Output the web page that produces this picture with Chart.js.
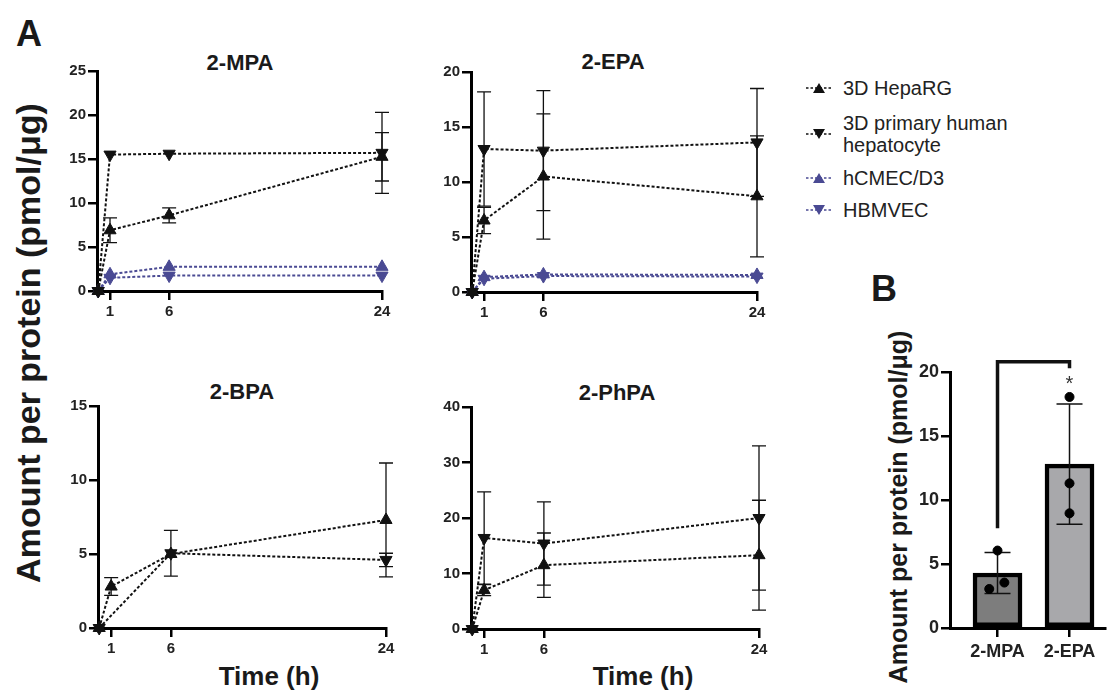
<!DOCTYPE html>
<html>
<head>
<meta charset="utf-8">
<script src="https://cdn.jsdelivr.net/npm/chart.js@4"></script>
<style>
  body { margin: 0; background: #fff; width: 1111px; height: 693px; position: relative; overflow: hidden;
         font-family: "Liberation Sans", Arial, sans-serif; color: #1a1a1a; }
  canvas { position: absolute; }
  .lbl { position: absolute; font-weight: bold; white-space: nowrap; transform: translate(-50%, -50%); }
  .rot { transform: translate(-50%, -50%) rotate(-90deg); }
  .leg { position: absolute; left: 806px; display: flex; align-items: center; font-size: 20px; line-height: 22px; color: #222; }
  .leg svg { margin-right: 11px; flex: none; }
</style>
</head>
<body>

<div class="lbl" style="left:29px;top:34px;font-size:36px">A</div>
<div class="lbl" style="left:884px;top:289px;font-size:36px">B</div>
<div class="lbl rot" style="left:28px;top:343px;font-size:34px">Amount per protein (pmol/μg)</div>
<div class="lbl rot" style="left:898px;top:507px;font-size:25px">Amount per protein (pmol/μg)</div>
<div class="lbl" style="left:240px;top:63px;font-size:22px">2-MPA</div>
<div class="lbl" style="left:613px;top:62px;font-size:22px">2-EPA</div>
<div class="lbl" style="left:242px;top:392px;font-size:22px">2-BPA</div>
<div class="lbl" style="left:617px;top:393px;font-size:22px">2-PhPA</div>
<div class="lbl" style="left:269px;top:676px;font-size:26px">Time (h)</div>
<div class="lbl" style="left:643px;top:676px;font-size:26px">Time (h)</div>
<div id="legend"></div>

<canvas id="mpa"></canvas>
<canvas id="epa"></canvas>
<canvas id="bpa"></canvas>
<canvas id="phpa"></canvas>
<canvas id="bars"></canvas>

<script>
// time points (h) and x tick labels
const times = [0, 1, 6, 24];
const timeTicks = [1, 6, 24];
const seriesNames = ['3D HepaRG', '3D primary human hepatocyte', 'hCMEC/D3', 'HBMVEC'];

// 2-MPA
const mpaHepaRG = [0, 6.9, 8.6, 15.25];
const mpaHepaRGSd = [0, 1.4, 0.85, 2.75];
const mpaHepatocyte = [0, 15.5, 15.6, 15.7];
const mpaHepatocyteSd = [0, 0, 0, 4.6];
const mpaHcmec = [0, 1.9, 2.75, 2.75];
const mpaHbmvec = [0, 1.5, 1.75, 1.75];

// 2-EPA
const epaHepaRG = [0, 6.5, 10.5, 8.7];
const epaHepaRGSd = [0, 1.2, 5.7, 5.5];
const epaHepatocyte = [0, 13.0, 12.85, 13.6];
const epaHepatocyteSd = [0, 5.2, 5.45, 4.9];
const epaHcmec = [0, 1.35, 1.6, 1.55];
const epaHbmvec = [0, 1.2, 1.45, 1.4];

// 2-BPA (no hepatocyte value at 1 h)
const bpaHepaRG = [0, 2.8, 5.0, 7.3];
const bpaHepaRGSd = [0, 0.6, 0, 3.85];
const bpaHepatocyte = [0, null, 5.05, 4.6];
const bpaHepatocyteSd = [0, 0, 1.55, 0.45];

// 2-PhPA
const phpaHepaRG = [0, 7.0, 11.5, 13.3];
const phpaHepaRGSd = [0, 1.0, 5.8, 9.9];
const phpaHepatocyte = [0, 16.4, 15.4, 20.0];
const phpaHepatocyteSd = [0, 8.3, 7.5, 13.0];

// panel B
const barLabels = ['2-MPA', '2-EPA'];
const barMeans = [4.3, 12.8];
const barSd = [1.6, 4.7];
const mpaReplicates = [6.05, 3.55, 3.05];
const epaReplicates = [18.05, 11.3, 8.96];
const mpaJitter = [0, 0.095, -0.115];
const epaJitter = [0, 0, 0];
const bracketLow = 7.8, bracketTop = 20.8, bracketRightEnd = 20.3, starY = 18.6;

const BLACK = '#111';
const PURPLE = '#4a4a93';
const FONT = 'Liberation Sans, Arial, sans-serif';

function place(id, box, yw, xh, pt, pr) {
  const cv = document.getElementById(id);
  const left = Math.round(box.l - yw), top = Math.round(box.t - pt);
  cv.style.left = left + 'px';
  cv.style.top = top + 'px';
  cv.width = Math.round(box.r + pr) - left;
  cv.height = Math.round(box.b + xh) - top;
  return cv;
}

function drawErrors(chart, i, capHalf, lw) {
  const ds = chart.data.datasets[i];
  if (!ds.errors) return;
  const ctx = chart.ctx, ys = chart.scales.y;
  const meta = chart.getDatasetMeta(i);
  ctx.save();
  ctx.strokeStyle = BLACK;
  ctx.lineWidth = lw;
  meta.data.forEach((el, j) => {
    const v = ds.data[j].y, e = ds.errors[j];
    if (v == null || !e) return;
    const x = el.x, y1 = ys.getPixelForValue(v + e), y2 = ys.getPixelForValue(v - e);
    ctx.beginPath();
    ctx.moveTo(x, y1); ctx.lineTo(x, y2);
    ctx.moveTo(x - capHalf, y1); ctx.lineTo(x + capHalf, y1);
    ctx.moveTo(x - capHalf, y2); ctx.lineTo(x + capHalf, y2);
    ctx.stroke();
  });
  ctx.restore();
}

const lineErrors = {
  id: 'lineErrors',
  beforeDatasetsDraw(chart) {
    chart.data.datasets.forEach((ds, i) => drawErrors(chart, i, 7, 1.3));
  }
};

function series(name, vals, sd, color, down) {
  return {
    label: name,
    data: times.map((t, i) => ({ x: t, y: vals[i] })),
    errors: sd,
    borderColor: color,
    backgroundColor: color,
    borderWidth: 2,
    borderDash: [3, 2],
    pointStyle: 'triangle',
    pointRotation: down ? 180 : 0,
    pointRadius: 7,
    pointHoverRadius: 7,
    pointBorderWidth: 1,
    spanGaps: true,
    clip: false
  };
}

function axisStyle() {
  return {
    offset: false,
    grid: { offset: false, drawOnChartArea: false, drawTicks: true, tickLength: 9, color: '#000', lineWidth: 2.5 },
    border: { display: true, color: '#000', width: 3 }
  };
}

function linePanel(id, box, yMax, yStep, datasets) {
  const cv = place(id, box, 45, 32, 14, 20);
  new Chart(cv, {
    type: 'line',
    data: { datasets },
    options: {
      responsive: false,
      animation: false,
      layout: { padding: { top: 14, right: 20, left: 0, bottom: 0 } },
      plugins: { legend: { display: false }, tooltip: { enabled: false } },
      scales: {
        x: {
          type: 'linear', min: -0.1, max: 24,
          ...axisStyle(),
          afterBuildTicks: s => { s.ticks = timeTicks.map(v => ({ value: v })); },
          afterFit: s => { s.height = 32; },
          ticks: { color: '#222', padding: 3, font: { family: FONT, size: 15, weight: 'bold' } }
        },
        y: {
          min: 0, max: yMax,
          ...axisStyle(),
          afterFit: s => { s.width = 45; },
          ticks: { stepSize: yStep, color: '#222', padding: 2, font: { family: FONT, size: 15, weight: 'bold' } }
        }
      }
    },
    plugins: [lineErrors]
  });
}

linePanel('mpa', { l: 97, t: 71, r: 382, b: 291 }, 25, 5, [
  series(seriesNames[0], mpaHepaRG, mpaHepaRGSd, BLACK, false),
  series(seriesNames[1], mpaHepatocyte, mpaHepatocyteSd, BLACK, true),
  series(seriesNames[2], mpaHcmec, null, PURPLE, false),
  series(seriesNames[3], mpaHbmvec, null, PURPLE, true)
]);

linePanel('epa', { l: 471, t: 72, r: 757, b: 292 }, 20, 5, [
  series(seriesNames[0], epaHepaRG, epaHepaRGSd, BLACK, false),
  series(seriesNames[1], epaHepatocyte, epaHepatocyteSd, BLACK, true),
  series(seriesNames[2], epaHcmec, null, PURPLE, false),
  series(seriesNames[3], epaHbmvec, null, PURPLE, true)
]);

linePanel('bpa', { l: 98, t: 406, r: 386, b: 628 }, 15, 5, [
  series(seriesNames[0], bpaHepaRG, bpaHepaRGSd, BLACK, false),
  series(seriesNames[1], bpaHepatocyte, bpaHepatocyteSd, BLACK, true)
]);

linePanel('phpa', { l: 471, t: 407, r: 759, b: 629 }, 40, 10, [
  series(seriesNames[0], phpaHepaRG, phpaHepaRGSd, BLACK, false),
  series(seriesNames[1], phpaHepatocyte, phpaHepatocyteSd, BLACK, true)
]);

// panel B: bars + replicate points + significance bracket
const barErrors = {
  id: 'barErrors',
  afterDatasetDraw(chart, args) {
    if (args.meta.type === 'bar') drawErrors(chart, args.index, 13, 1.5);
  }
};

const bracket = {
  id: 'bracket',
  afterDraw(chart) {
    const ctx = chart.ctx, xs = chart.scales.x, ys = chart.scales.y;
    const x1 = xs.getPixelForValue(1), x2 = xs.getPixelForValue(2);
    const yTop = ys.getPixelForValue(bracketTop);
    ctx.save();
    ctx.strokeStyle = BLACK;
    ctx.lineWidth = 3.5;
    ctx.beginPath();
    ctx.moveTo(x1, ys.getPixelForValue(bracketLow));
    ctx.lineTo(x1, yTop);
    ctx.lineTo(x2, yTop);
    ctx.lineTo(x2, ys.getPixelForValue(bracketRightEnd));
    ctx.stroke();
    ctx.fillStyle = '#333';
    ctx.font = '20px ' + FONT;
    ctx.textAlign = 'center';
    ctx.textBaseline = 'alphabetic';
    ctx.fillText('*', x2, ys.getPixelForValue(starY));
    ctx.restore();
  }
};

const barBox = { l: 950, t: 372, r: 1110, b: 628 };
const barCanvas = place('bars', barBox, 50, 40, 14, 1);
new Chart(barCanvas, {
  type: 'bar',
  data: {
    datasets: [
      {
        type: 'bar',
        data: barMeans.map((v, i) => ({ x: i + 1, y: v })),
        errors: barSd,
        backgroundColor: ['#7d7d7d', '#a8a8ab'],
        borderColor: '#000',
        borderWidth: 4.5,
        borderSkipped: false,
        barThickness: 49,
        order: 1
      },
      {
        type: 'scatter',
        data: mpaReplicates.map((v, k) => ({ x: 1 + mpaJitter[k], y: v }))
          .concat(epaReplicates.map((v, k) => ({ x: 2 + epaJitter[k], y: v }))),
        backgroundColor: '#000',
        borderColor: '#000',
        pointRadius: 4.5,
        pointHoverRadius: 4.5,
        clip: false,
        order: 0
      }
    ]
  },
  options: {
    responsive: false,
    animation: false,
    layout: { padding: { top: 14, right: 1, left: 0, bottom: 0 } },
    plugins: { legend: { display: false }, tooltip: { enabled: false } },
    scales: {
      x: {
        type: 'linear', min: 0.34, max: 2.5,
        ...axisStyle(),
        afterBuildTicks: s => { s.ticks = barLabels.map((_, i) => ({ value: i + 1 })); },
        afterFit: s => { s.height = 40; },
        ticks: { color: '#222', padding: 4, autoSkip: false, maxRotation: 0, font: { family: FONT, size: 18, weight: 'bold' },
                 callback: v => barLabels[v - 1] }
      },
      y: {
        min: 0, max: 20,
        ...axisStyle(),
        afterFit: s => { s.width = 50; },
        ticks: { stepSize: 5, color: '#222', padding: 2, font: { family: FONT, size: 18, weight: 'bold' } }
      }
    }
  },
  plugins: [barErrors, bracket]
});

// legend
const legendRows = [
  { top: 88, color: BLACK, down: false, text: '3D HepaRG' },
  { top: 134, color: BLACK, down: true, text: '3D primary human<br>hepatocyte' },
  { top: 178, color: PURPLE, down: false, text: seriesNames[2] },
  { top: 210, color: PURPLE, down: true, text: seriesNames[3] }
];
document.getElementById('legend').innerHTML = legendRows.map(r => {
  const tri = r.down ? '7,2 19,2 13,12' : '13,2 19,12 7,12';
  return `<div class="leg" style="top:${r.top}px;transform:translateY(-50%)">` +
    `<svg width="26" height="14"><line x1="0" y1="7" x2="26" y2="7" stroke="${r.color}" stroke-width="1.5" stroke-dasharray="2.5,2"/>` +
    `<polygon points="${tri}" fill="${r.color}"/></svg><span>${r.text}</span></div>`;
}).join('');
</script>
</body>
</html>
